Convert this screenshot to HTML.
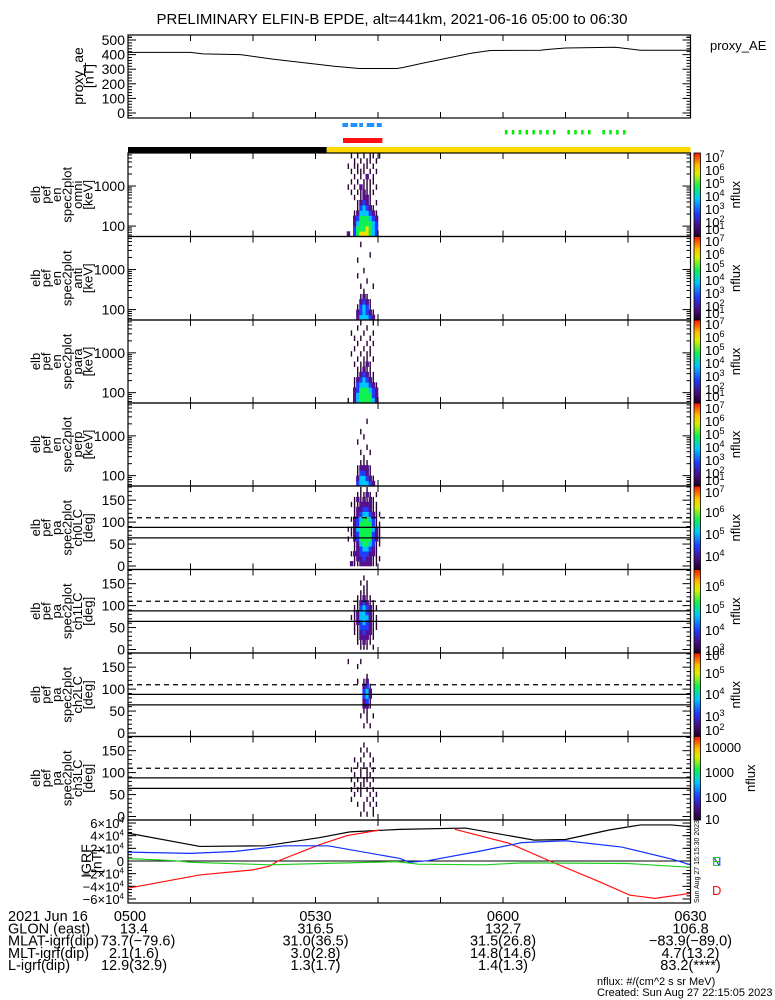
<!DOCTYPE html>
<html><head><meta charset="utf-8"><style>
html,body{margin:0;padding:0;background:#fff}
svg{display:block;font-family:"Liberation Sans",sans-serif}
</style></head><body>
<svg id="c" width="775" height="1000" viewBox="0 0 775 1000" xmlns="http://www.w3.org/2000/svg">
<text x="392" y="24" font-size="15" text-anchor="middle">PRELIMINARY ELFIN-B EPDE, alt=441km, 2021-06-16 05:00 to 06:30</text>
<g id="g"></g>
</svg>
<script>
// ---------- data ----------
const aeMin=[0,10,12,18,23,28,33,37,43,44,47,51,55,58,66,67,70,78,81,82,90];
const aeVal=[415,415,405,400,370,345,320,305,305,312,340,375,410,428,430,435,445,450,435,430,430];
const igrfMin={
 F:[0,11.5,22,30.7,35.5,43.5,54,65,70,77,82,87,90],
 D1:[0,11.5,20,22.7,24,30.7,35,40.3],
 D2:[52.3,61,67.5,75.5,80.3,84.3,90],
 N:[0,10,17,25,32,43.5,45,48,56,63,70,79,87,90],
 E:[0,7.5,10,22.7,31,43,46.5,57,63,80,90]};
const igrfVal={
 F:[4.4,2.3,2.4,3.7,4.6,5.0,5.2,3.3,3.4,4.9,5.7,5.7,5.4],
 D1:[-4.3,-2.2,-1.4,-0.8,0,2.6,4.0,4.9],
 D2:[5.0,2.8,0,-3.3,-5.4,-5.9,-5.1],
 N:[1.4,1.2,1.5,2.4,2.4,0.4,-0.2,0.05,1.5,2.9,3.2,2.2,0.3,-0.6],
 E:[0.4,0.05,-0.2,-0.6,-0.4,-0.1,-0.5,-0.6,-0.3,-0.4,-1.0]};
const specStart=34.5, specBin=0.5;
const omni=["020356665430","000355565430","000245555430","000235554320","000124443210","000013432100","000012321010","000101221000","001011211100","010102111010","001010111100","000101020100","001011101010","010110110100","000101011010","001010101101"];
const anti=["000024443200","000023432100","000013431000","000002321000","000001210000","000000100000","000001000100","000000010000","000010000000","000000100000","000000000000","000010000000","000000001000","000000000000","000001000000","000000000000"];
const para=["010245555420","000245555320","000235554320","000134443210","000123432100","000012321100","000011211000","000101121000","000010110100","001001011000","000100101000","000010010100","000101001000","001000100100","000010010000","000001000100"];
const perp=["000034443200","000024432100","000013321000","000012221000","000001110000","000000100000","000001001000","000000010000","000010000000","000000100000","000001000000","000000000000","000000010000","000000000000","000000000000","000000000000"];
const pa0=["002112222110","000122322111","001223332210","000123443210","000124554311","010235555321","001235555321","011245555421","000235555311","001234554310","000123443211","000122332110","001112222110","000121212100","000011121010","000001010000"];
const pa1=["000001110100","000011211000","000012221100","000112322100","000113332110","000123432110","001124442110","000124432100","000113432110","000012321100","000011211000","000001110000","000000110000","000001010000","000000100000","000000000000"];
const pa2=["000000000000","000000101000","000000010000","000001010100","000000110000","000000221000","000000231000","000000342000","000000342000","000000231000","000010120000","000000010000","000000000000","000010000000","010001000000","000000000000"];
const pa3=["000001010100","000000100100","000010101010","001000010100","000101001010","001011010100","000101101000","001010110100","000101011000","001001010100","000010101000","000101000100","000000101000","000001010000","000000100000","000000000000"];
const cbLabels=[
 [["7",157],["6",170],["5",183],["4",196],["3",209],["2",222],["1",229]],
 [["7",241],["6",254],["5",267],["4",280],["3",293],["2",306],["1",313]],
 [["7",324],["6",337],["5",350],["4",363],["3",376],["2",389],["1",396]],
 [["7",408],["6",421],["5",434],["4",447],["3",460],["2",473],["1",480]],
 [["7",492],["6",512],["5",534],["4",556]],
 [["6",586],["5",608],["4",630],["3",650]],
 [["6",655],["5",673],["4",694],["3",716],["2",730]],
 [["10000",747],["1000",772],["100",797],["10",819]]];
// ---------- helpers ----------
const NS="http://www.w3.org/2000/svg";const G=document.getElementById('g');
function mk(t,a,p){const e=document.createElementNS(NS,t);for(const k in a)e.setAttribute(k,a[k]);(p||G).appendChild(e);return e;}
const X0=128,X1=690.5;function xs(m){return X0+m*(X1-X0)/90;}
const cmap=['','#2a0535','#55108e','#1f3cff','#00c4ff','#10f050','#f2e000','#ff2000'];
function yTicks(yTop,yBot,major,minor,labels){
 for(const y of major){mk('line',{x1:X0,x2:X0+8,y1:y,y2:y,stroke:'#000'});mk('line',{x1:X1-8,x2:X1,y1:y,y2:y,stroke:'#000'});}
 for(const y of minor){mk('line',{x1:X0,x2:X0+4,y1:y,y2:y,stroke:'#000'});mk('line',{x1:X1-4,x2:X1,y1:y,y2:y,stroke:'#000'});}
 for(const [t,y] of labels){const e=mk('text',{x:125,y:y+5,'font-size':14,'text-anchor':'end'});e.textContent=t;
  
  }
}
function xTicks(yTop,yBot){for(let m=10;m<90;m+=10){mk('line',{x1:xs(m),x2:xs(m),y1:yBot,y2:yBot-6,stroke:'#000'});mk('line',{x1:xs(m),x2:xs(m),y1:yTop,y2:yTop+6,stroke:'#000'});}}
function box(yTop,yBot,name){const r=mk('rect',{x:X0,y:yTop,width:X1-X0,height:yBot-yTop,fill:'none',stroke:'#000','stroke-width':1.2});
 
 }
function leftLabel(lines,cx,cy,name,fs){const t=mk('text',{transform:`translate(${cx},${cy}) rotate(-90)`,'font-size':fs||13,'text-anchor':'middle'});
 
 
 lines.forEach((l,i)=>{const s=mk('tspan',{x:0,y:(i-(lines.length-1)/2)*10.5+4},t);s.textContent=l;});}
function spec(mat,yTop,yBot,name){const n=mat.length,h=(yBot-yTop)/n;const g=mk('g',{});
 
 
 mat.forEach((row,r)=>{for(let c=0;c<row.length;c++){const v=+row[c];if(!v)continue;
  const x=xs(specStart+c*specBin),w=xs(specStart+(c+1)*specBin)-x;
  if(v===1) mk('rect',{x:x+w/2-0.7,y:yBot-(r+1)*h,width:1.4,height:h+0.3,fill:cmap[v]},g);
  else mk('rect',{x:x,y:yBot-(r+1)*h,width:w+0.3,height:h+0.3,fill:cmap[v]},g);}});}
function colorbar(yTop,yBot,labels,name){
 const id='cb'+Math.round(yTop);const d=mk('linearGradient',{id:id,x1:0,y1:1,x2:0,y2:0});
 [['0','#200020'],['0.12','#4a0a80'],['0.28','#1f3cff'],['0.45','#00c8ff'],['0.6','#10f050'],['0.75','#d8f000'],['0.85','#ffc000'],['1','#ff1000']].forEach(s=>mk('stop',{offset:s[0],'stop-color':s[1]},d));
 const r=mk('rect',{x:694,y:yTop,width:6.5,height:yBot-yTop,fill:`url(#${id})`,stroke:'#000','stroke-width':0.8});
 
 
 for(const [t,y] of labels){const e=mk('text',{x:705,y:y+5,'font-size':13});
  
  
  if(t.length===1){const a=mk('tspan',{},e);a.textContent='10';const b=mk('tspan',{dy:-5,'font-size':9},e);b.textContent=t;}else e.textContent=t;}
 const n=mk('text',{transform:`translate(${labels[0][0].length>1?755:740},${(yTop+yBot)/2}) rotate(-90)`,'font-size':13,'text-anchor':'middle'});n.textContent='nflux';
 
 
}
// ---------- top AE panel ----------
const aeTop=35,aeBot=118;const aeY=v=>113-v*(73/500);
{const mj=[],mn=[],lb=[];for(let v=0;v<=500;v+=100){mj.push(aeY(v));lb.push([String(v),aeY(v)]);}for(let v=0;v<=520;v+=20)if(v%100)mn.push(aeY(v));
 for(let y=aeBot;y>aeY(0);y-=2.5)mn.push(y);for(let y=aeY(500);y>aeTop;y-=2.5)mn.push(y);
 yTicks(aeTop,aeBot,mj,mn,lb);}
xTicks(aeTop,aeBot);box(aeTop,aeBot,'proxy-ae-panel');
{const p=mk('polyline',{points:aeMin.map((m,i)=>xs(m)+','+aeY(aeVal[i])).join(' '),fill:'none',stroke:'#000','stroke-width':1});
 
 }
leftLabel(['proxy_ae','[nT]'],84,76,'proxy-ae-axis-title',14);
{const t=mk('text',{x:710,y:50,'font-size':13});t.textContent='proxy_AE';
 
 }
// orbit bars
const blueDash=[[34.3,35.2],[35.6,36.7],[37,37.6],[38.2,39.4],[39.8,40.6]];
blueDash.forEach(d=>{const r=mk('rect',{x:xs(d[0]),y:123,width:xs(d[1])-xs(d[0]),height:4,fill:'#1e90ff'});
 
 });
for(let k=0;k<16;k++){const m=[60.3,61.4,62.5,63.6,64.7,65.8,66.9,68,70.3,71.4,72.5,73.6,75.9,77,78.1,79.2][k];
 const r=mk('rect',{x:xs(m),y:130,width:2.5,height:4.5,fill:'#00ee00'});
 
 }
{const r=mk('rect',{x:xs(34.4),y:138,width:xs(40.7)-xs(34.4),height:5,fill:'#ff1010'});
 
 }
{const r=mk('rect',{x:X0,y:147,width:xs(31.8)-X0,height:6,fill:'#000'});
 
 
 const r2=mk('rect',{x:xs(31.8),y:147,width:X1-xs(31.8),height:6,fill:'#ffd700'});
 
 }
// ---------- energy panels ----------
const eP=[[153,236.5,omni,'omni'],[236.5,320,anti,'anti'],[320,403,para,'para'],[403,486,perp,'perp']];
eP.forEach(([t,b,mat,nm],i)=>{
 spec(mat,t,b,'spectrogram-'+nm);
 const top=3.825,bot=1.74;const ey=l=>t+(top-l)*(b-t)/(top-bot);
 const mj=[ey(2),ey(3)],mn=[];for(const d of [1,2,3])for(let k=2;k<10;k++){const l=d+Math.log10(k);if(l>bot&&l<top)mn.push(ey(l));}
 yTicks(t,b,mj,mn,[['100',ey(2)],['1000',ey(3)]]);
 xTicks(t,b);box(t,b,'energy-panel-'+nm);
 leftLabel(['elb','pef','en','spec2plot',nm,'[keV]'],62,(t+b)/2,'energy-axis-title-'+nm);
 colorbar(t,b,cbLabels[i],'colorbar-'+nm);
});
// ---------- pitch angle panels ----------
const pP=[[486,569.5,pa0,'ch0LC'],[569.5,653,pa1,'ch1LC'],[653,736.5,pa2,'ch2LC'],[736.5,820,pa3,'ch3LC']];
pP.forEach(([t,b,mat,nm],i)=>{
 const py=a=>b-3.5-a*(b-3.5-t-1)/180;
 spec(mat,py(180),py(0),'pa-spectrogram-'+nm);
 const mj=[0,50,100,150].map(py),mn=[];for(let a=0;a<=180;a+=10)if(a%50)mn.push(py(a));
 yTicks(t,b,mj,mn,[0,50,100,150].map(a=>[String(a),py(a)]));
 xTicks(t,b);
 [[110,'5,4'],[88,''],[64,'']].forEach(([a,da])=>{const l=mk('line',{x1:X0,x2:X1,y1:py(a),y2:py(a),stroke:'#000','stroke-width':1.2,'stroke-dasharray':da});
  
  });
 box(t,b,'pa-panel-'+nm);
 leftLabel(['elb','pef','pa','spec2plot',nm,'[deg]'],62,(t+b)/2,'pa-axis-title-'+nm);
 colorbar(t,b,cbLabels[4+i],'colorbar-'+nm);
});
// ---------- IGRF panel ----------
const iT=820,iB=903;const iy=v=>861-v*6.33;
{const mj=[],mn=[];for(let v=-6;v<=6;v+=2){mj.push(iy(v));}for(let v=-6;v<=6;v+=0.5)mn.push(iy(v));
 yTicks(iT,iB,mj,mn,[]);
 [6,4,2,0,-2,-4,-6].forEach(v=>{const e=mk('text',{x:124,y:iy(v)+5,'font-size':13,'text-anchor':'end'});
  
  
  if(v===0)e.textContent='0';else{const a=mk('tspan',{},e);a.textContent=(v<0?'−':'')+Math.abs(v)+'×10';const s=mk('tspan',{dy:-5,'font-size':8},e);s.textContent='4';}});}
xTicks(iT,iB);
{const l=mk('line',{x1:X0,x2:X1,y1:iy(0),y2:iy(0),stroke:'#000'});
 
 }
[['F','#000'],['D1','#ff1010'],['D2','#ff1010'],['N','#1030ff'],['E','#20d020']].forEach(([k,c])=>{
 const p=mk('polyline',{points:igrfMin[k].map((m,i)=>xs(m)+','+iy(igrfVal[k][i])).join(' '),fill:'none',stroke:c,'stroke-width':1.2});
 
 });
box(iT,iB,'igrf-panel');
leftLabel(['IGRF','[nT]'],92,861,'igrf-axis-title',14);
[['N','#1030ff',866],['E','#20d020',870],['D','#ff1010',895]].forEach(([t,c,y])=>{const e=mk('text',{x:712,y:y-(t==='E'?4:0),'font-size':13,fill:c});e.textContent=t;
 
 });
{const e=mk('text',{transform:'translate(699,903) rotate(-90)','font-size':7});e.textContent='Sun Aug 27 15:15:30 2023';
 
 }
// ---------- footer ----------
const footRows=[['2021 Jun 16','0500','0530','0600','0630'],['GLON (east)','13.4','316.5','132.7','106.8'],['MLAT-igrf(dip)','73.7(−79.6)','31.0(36.5)','31.5(26.8)','−83.9(−89.0)'],['MLT-igrf(dip)','2.1(1.6)','3.0(2.8)','14.8(14.6)','4.7(13.2)'],['L-igrf(dip)','12.9(32.9)','1.3(1.7)','1.4(1.3)','83.2(****)']];
footRows.forEach((r,i)=>{const y=921+i*12.3;
 const a=mk('text',{x:8,y:y,'font-size':14.5});a.textContent=r[0];
 
 
 [0,30,60,90].forEach((m,j)=>{let x=xs(m);if(j===0)x=xs(0)+(i===0?2:i===2?10:6);const e=mk('text',{x:x,y:y,'font-size':14.5,'text-anchor':'middle'});e.textContent=r[j+1];
  
  });});
{const e=mk('text',{x:597,y:985,'font-size':11});e.textContent='nflux: #/(cm^2 s sr MeV)';
 
 
 const f=mk('text',{x:597,y:996,'font-size':11});f.textContent='Created: Sun Aug 27 22:15:05 2023';
 
 }
</script>
</body></html>
